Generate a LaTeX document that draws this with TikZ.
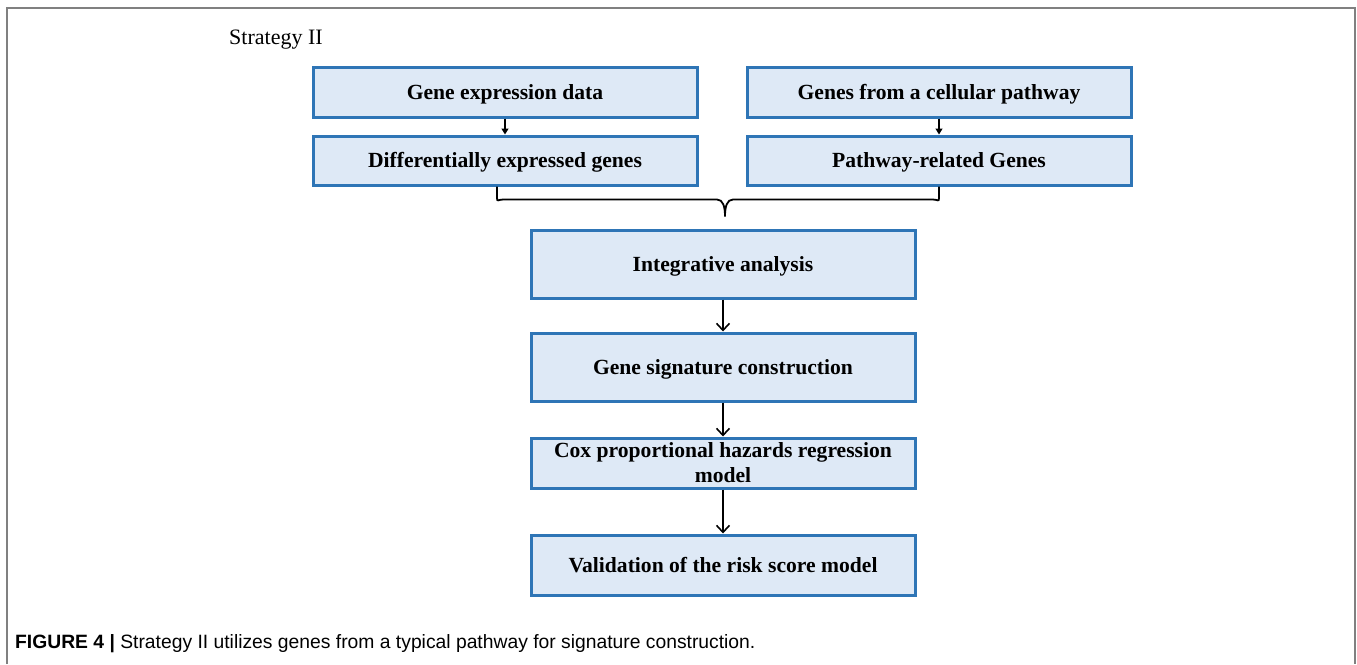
\documentclass[tikz,border=0pt]{standalone}
\usepackage{fontspec}
\usetikzlibrary{arrows.meta,calc}
\newfontfamily\boxfont{Liberation Serif}
\newfontfamily\capfont{Liberation Sans}
\definecolor{boxfill}{RGB}{222,233,246}
\definecolor{boxline}{RGB}{46,117,182}
\definecolor{framegray}{RGB}{128,128,128}
\tikzset{
  boxbase/.style={draw=boxline, fill=boxfill, line width=3pt, minimum width=384pt,
    inner sep=0pt, align=center, font=\boxfont\bfseries\fontsize{21.6}{25}\selectfont},
  box/.style={boxbase, text height=15.5pt, text depth=1.2pt},
  arr/.style={draw=black, line width=1.6pt, -{Straight Barb[length=7pt,width=13pt,line width=1.6pt]}},
  smallarr/.style={draw=black, line width=1.3pt, -{Triangle[length=6pt,width=7pt]}},
  bracestyle/.style={draw=black, line width=1.8pt},
}
\begin{document}
\begin{tikzpicture}[x=1pt,y=-1pt]
\useasboundingbox (0,0) rectangle (1357,664);
\fill[white] (0,0) rectangle (1357,664);
\draw[framegray, line width=2pt] (7,664) -- (7,8) -- (1355,8) -- (1355,664);

\node[font=\boxfont\fontsize{22}{24}\selectfont, anchor=base west, inner sep=0pt] (title) at (229,44) {Strategy II};

\node[box, minimum height=50pt] (ged) at (505,92) {Gene expression data};
\node[box, minimum height=49pt] (deg) at (505,160.5) {Differentially expressed genes};
\node[box, minimum height=50pt] (gcp) at (939,92) {Genes from a cellular pathway};
\node[box, minimum height=49pt] (prg) at (939,160.5) {Pathway-related Genes};

\node[box, minimum height=68pt] (ia) at (723,264) {Integrative analysis};
\node[box, minimum height=68pt] (gsc) at (723,367) {Gene signature construction};
\node[boxbase, minimum height=50pt] (cox) at (723,463) {Cox proportional hazards regression\\model};
\node[box, minimum height=60pt] (val) at (723,565) {Validation of the risk score model};

\draw[smallarr] (ged) -- (deg);
\draw[smallarr] (gcp) -- (prg);

\coordinate (bl) at ($(deg.south)+(-8,0)$);
\coordinate (br) at (prg.south);
\coordinate (bt) at ($(ia.north)+(2,-12)$);
\draw[bracestyle] (bl) -- ++(0,11) .. controls +(0,5) and +(-5,0) .. ($(bl |- bt)+(6,-17)$)
  -- ($(bt)+(-8,-17)$) .. controls +(6,0) and +(0,-10) .. (bt)
  .. controls +(0,-10) and +(-6,0) .. ($(bt)+(8,-17)$)
  -- ($(br |- bt)+(-6,-17)$) .. controls +(5,0) and +(0,5) .. ($(br)+(0,11)$) -- (br);

\draw[arr] (ia) -- (gsc);
\draw[arr] (gsc) -- (cox);
\draw[arr] (cox) -- (val);

\node[anchor=base west, inner sep=0pt, font=\capfont\fontsize{19.3}{22}\selectfont] (cap) at (15,648)
  {\textbf{FIGURE 4 |} Strategy II utilizes genes from a typical pathway for signature construction.};
\end{tikzpicture}
\end{document}
